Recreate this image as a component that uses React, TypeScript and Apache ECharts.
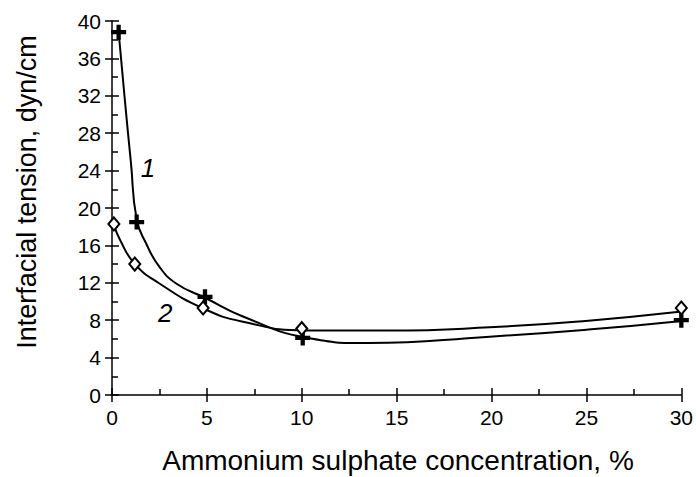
import React, { useEffect, useRef } from 'react';
import * as echarts from 'echarts';

// Fitted curves
const curve1X = [0.35, 0.68, 1.0, 1.3, 1.8, 2.5, 3.4, 4.9, 6.9, 10.2, 13.5, 19.9, 25.1, 29.9];
const curve1Y = [38.8, 31.5, 24.8, 18.8, 16.2, 13.7, 11.9, 10.4, 8.4, 6.15, 5.55, 6.24, 7.0, 7.9];
const curve2X = [0.1, 0.42, 1.21, 2.52, 4.76, 6.9, 10.2, 14.6, 19.9, 25.1, 29.9];
const curve2Y = [18.3, 16.6, 14.0, 11.9, 9.3, 7.84, 6.9, 6.9, 7.24, 7.95, 8.9];

// Measured points
const points1X = [0.35, 1.3, 4.9, 10.05, 30];
const points1Y = [38.8, 18.5, 10.5, 6.1, 8.0];
const points2X = [0.1, 1.2, 4.8, 10.0, 30];
const points2Y = [18.3, 14.0, 9.3, 7.1, 9.3];

// Curve labels
const curveLabels = ['1', '2'];
const curveLabelX = [1.9, 2.8];
const curveLabelY = [24.3, 8.8];

const xTitle = 'Ammonium sulphate concentration, %';
const yTitle = 'Interfacial tension, dyn/cm';

const FONT = '"Liberation Sans", Arial, sans-serif';

const zip = (xs: number[], ys: number[]) => xs.map((x, i) => [x, ys[i]]);

export default function App() {
  const ref = useRef<HTMLDivElement>(null);
  useEffect(() => {
    if (!ref.current) return;
    const chart = echarts.init(ref.current, undefined, { renderer: 'svg' });
    const axisCommon = {
      type: 'value' as const,
      splitLine: { show: false },
    };
    const tickStyle = { color: '#000', width: 1.5 };
    chart.setOption({
      animation: false,
      backgroundColor: '#fff',
      grid: { left: 112, right: 13, top: 21, bottom: 82, containLabel: false },
      xAxis: [
        {
          ...axisCommon,
          min: 0, max: 30, interval: 5, position: 'bottom',
          axisLine: { show: true, lineStyle: { color: '#000', width: 1.5 } },
          axisTick: { show: true, inside: false, length: 7, lineStyle: tickStyle },
          axisLabel: { color: '#000', fontSize: 21, fontFamily: FONT, margin: 12 },
        },
        {
          ...axisCommon,
          min: 0, max: 30, interval: 5, position: 'bottom',
          axisLine: { show: false },
          axisTick: { show: true, inside: true, length: 7, lineStyle: tickStyle },
          minorTick: { show: true, splitNumber: 2, length: 6, lineStyle: tickStyle },
          axisLabel: { show: false },
        },
      ],
      yAxis: [
        {
          ...axisCommon,
          min: 0, max: 40, interval: 4, position: 'left',
          axisLine: { show: true, lineStyle: { color: '#000', width: 1.5 } },
          axisTick: { show: true, inside: false, length: 7, lineStyle: tickStyle },
          axisLabel: { color: '#000', fontSize: 21, fontFamily: FONT, margin: 11 },
        },
        {
          ...axisCommon,
          min: 0, max: 40, interval: 4, position: 'left',
          axisLine: { show: false },
          axisTick: { show: true, inside: true, length: 7, lineStyle: tickStyle },
          minorTick: { show: true, splitNumber: 2, length: 6, lineStyle: tickStyle },
          axisLabel: { show: false },
        },
      ],
      graphic: [
        {
          type: 'text',
          x: 398, y: 460,
          style: {
            text: xTitle, fill: '#000', font: `28px ${FONT}`,
            textAlign: 'center', textVerticalAlign: 'middle', align: 'center', verticalAlign: 'middle',
          },
        },
        {
          type: 'text',
          x: 27, y: 192, rotation: Math.PI / 2,
          style: {
            text: yTitle, fill: '#000', font: `27px ${FONT}`,
            textAlign: 'center', textVerticalAlign: 'middle', align: 'center', verticalAlign: 'middle',
          },
        },
      ],
      series: [
        {
          type: 'line', data: zip(curve1X, curve1Y), showSymbol: false, smooth: 0.5,
          lineStyle: { color: '#000', width: 2 }, z: 2,
        },
        {
          type: 'line', data: zip(curve2X, curve2Y), showSymbol: false, smooth: 0.5,
          lineStyle: { color: '#000', width: 2 }, z: 2,
        },
        {
          type: 'scatter', data: zip(points1X, points1Y),
          symbol: 'path://M0 5H14V9H0Z M5 0H9V14H5Z', symbolSize: 15,
          itemStyle: { color: '#000', opacity: 1 }, z: 3,
        },
        {
          type: 'scatter', data: zip(points2X, points2Y),
          symbol: 'diamond', symbolSize: [11, 13],
          itemStyle: { color: '#fff', borderColor: '#000', borderWidth: 2, opacity: 1 }, z: 4,
        },
        {
          type: 'scatter',
          data: curveLabels.map((t, i) => ({ value: [curveLabelX[i], curveLabelY[i]], name: t })),
          symbolSize: 0,
          itemStyle: { opacity: 1 },
          label: {
            show: true, position: 'inside', formatter: (p: any) => p.name,
            color: '#000', fontSize: 26, fontFamily: FONT,
            fontStyle: 'italic',
          },
          z: 5,
        },
      ],
    });
    return () => chart.dispose();
  }, []);
  return <div ref={ref} style={{ position: 'fixed', left: 0, top: 0, width: 696, height: 477, background: '#fff' }} />;
}
